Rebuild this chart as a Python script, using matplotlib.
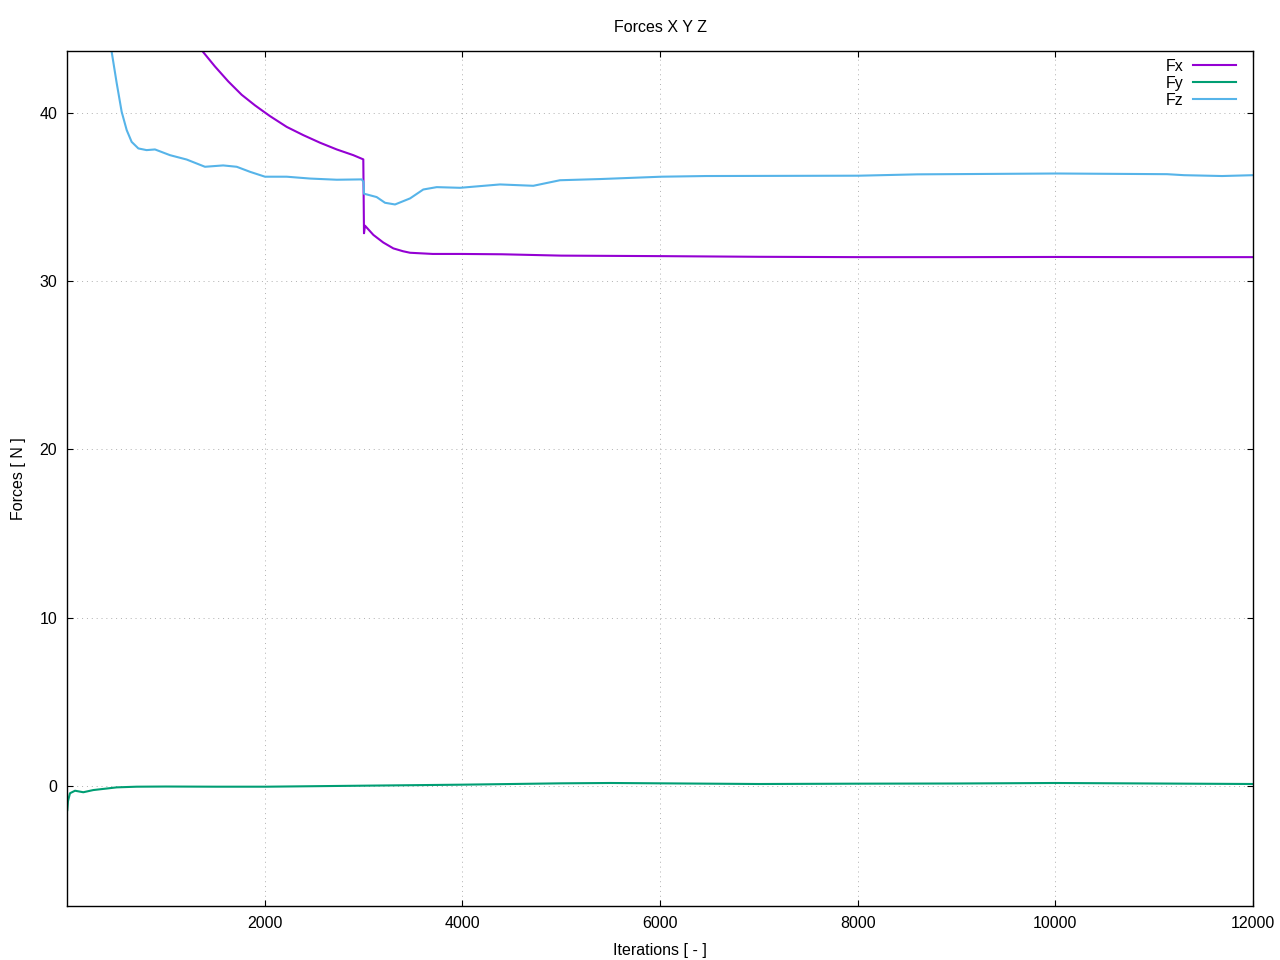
import matplotlib
matplotlib.use("Agg")
import matplotlib.pyplot as plt

plt.rcParams['font.family'] = ['Liberation Sans', 'DejaVu Sans']

# values
fx_it = [1380, 1497, 1632, 1767, 1902, 1987, 2054, 2223, 2391, 2560, 2729, 2897, 2998, 3005,
         3015, 3100, 3200, 3302, 3400, 3471, 3700, 3977, 4400, 5000, 6000, 7000, 8000, 9000,
         10000, 11000, 12000]
fx_val = [43.6, 42.76, 41.87, 41.08, 40.45, 40.09, 39.81, 39.17, 38.68, 38.23, 37.83, 37.49,
          37.24, 32.85, 33.3, 32.75, 32.3, 31.95, 31.78, 31.69, 31.62, 31.62, 31.6, 31.52,
          31.49, 31.45, 31.43, 31.43, 31.44, 31.43, 31.43]

fy_it = [3, 10, 30, 81, 165, 266, 400, 503, 705, 1000, 1500, 2020, 3000, 4000, 5000, 5500,
         6000, 7000, 8000, 9000, 10000, 11000, 12000]
fy_val = [-1.43, -0.9, -0.43, -0.28, -0.37, -0.24, -0.15, -0.08, -0.04, -0.03, -0.04, -0.04, 0.02,
          0.08, 0.16, 0.18, 0.16, 0.12, 0.14, 0.15, 0.18, 0.15, 0.12]

fz_it = [452, 502, 553, 604, 654, 722, 805, 890, 1042, 1211, 1396, 1580, 1717, 1852, 2003,
         2223, 2459, 2729, 2982, 3000, 3005, 3133, 3218, 3319, 3471, 3605, 3741, 3977, 4381,
         4718, 4988, 5393, 6014, 6464, 8014, 8605, 10017, 11130, 11303, 11687, 12000]
fz_val = [43.63, 41.8, 40.07, 38.98, 38.28, 37.89, 37.79, 37.83, 37.49, 37.23, 36.8, 36.88,
          36.8, 36.5, 36.21, 36.21, 36.1, 36.03, 36.05, 35.9, 35.2, 35.0, 34.66, 34.56, 34.92,
          35.45, 35.59, 35.55, 35.75, 35.67, 36.0, 36.07, 36.21, 36.25, 36.27, 36.35, 36.4,
          36.36, 36.3, 36.25, 36.3]

x_ticks = [2000, 4000, 6000, 8000, 10000, 12000]
y_ticks = [0, 10, 20, 30, 40]

fig = plt.figure(figsize=(12.8, 9.6), dpi=100)
ax = fig.add_axes([67 / 1280, 54 / 960, (1253 - 67) / 1280, (906 - 51) / 960])

ax.plot(fx_it, fx_val, color='#9400D3', lw=1.5, label='Fx')
ax.plot(fy_it, fy_val, color='#009E73', lw=1.5, label='Fy')
ax.plot(fz_it, fz_val, color='#56B4E9', lw=1.5, label='Fz')

ax.set_xlim(0, 12000)
ax.set_ylim(-7.13, 43.68)
ax.set_xticks(x_ticks)
ax.set_yticks(y_ticks)
ax.tick_params(direction='in', length=4.5, width=0.8, top=True, right=True, labelsize=11.5, pad=7)
ax.grid(True, linestyle=(0, (1, 4)), color='#b0b0b0', lw=0.7)
for s in ax.spines.values():
    s.set_linewidth(1.0)

ax.set_xlabel('Iterations [ - ]', fontsize=11.5, labelpad=9)
ax.set_ylabel('Forces [ N ]', fontsize=11.5, labelpad=10)
ax.set_title('Forces X Y Z', fontsize=11.5, pad=14)

ax.legend(loc='upper right', bbox_to_anchor=(1 - 10.5 / 1186, 1 - 1.5 / 855), borderaxespad=0,
          frameon=False, markerfirst=False, fontsize=11.5,
          handlelength=2.7, labelspacing=0.13, handletextpad=0.6)

fig.savefig('out.png', dpi=100)
